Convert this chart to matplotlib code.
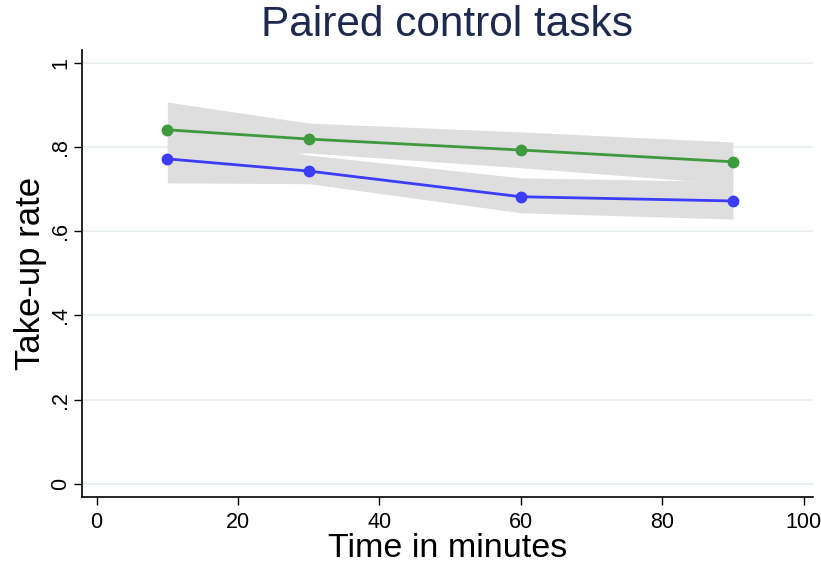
import matplotlib
matplotlib.use("Agg")
import matplotlib.pyplot as plt
import numpy as np

# Take-up rates by time (minutes) with 95% confidence bands
minutes = [10, 30, 60, 90]

green_rate = [0.841, 0.819, 0.793, 0.765]
green_lo = [0.775, 0.786, 0.751, 0.712]
green_hi = [0.907, 0.857, 0.836, 0.812]

blue_rate = [0.772, 0.743, 0.682, 0.672]
blue_lo = [0.715, 0.713, 0.644, 0.629]
blue_hi = [0.830, 0.781, 0.727, 0.718]

x_ticks = [0, 20, 40, 60, 80, 100]
y_ticks = [0, 0.2, 0.4, 0.6, 0.8, 1.0]
y_tick_labels = ["0", ".2", ".4", ".6", ".8", "1"]

plt.rcParams['font.family'] = ['Liberation Sans', 'DejaVu Sans']

fig = plt.figure(figsize=(8.21, 5.66), dpi=100)
ax = fig.add_axes([0.100, 0.122, 0.890, 0.790])

band_color = '#dedede'
ax.fill_between(minutes, green_lo, green_hi, color=band_color, linewidth=0, zorder=2)
ax.fill_between(minutes, blue_lo, blue_hi, color=band_color, linewidth=0, zorder=2)

ax.plot(minutes, green_rate, color='#3d9a3d', lw=2, marker='o', ms=7.5, zorder=4)
ax.plot(minutes, blue_rate, color='#3c3cff', lw=2, marker='o', ms=7.5, zorder=4)

ax.set_xlim(-2.05, 101.3)
ax.set_ylim(-0.031, 1.031)
ax.set_xticks(x_ticks)
ax.set_yticks(y_ticks)
ax.set_yticklabels(y_tick_labels, rotation=90, va='center')
ax.tick_params(axis='both', direction='out', length=6, width=1, labelsize=15.5, colors='black')
ax.tick_params(axis='x', pad=5)
ax.tick_params(axis='y', pad=2)

for y in y_ticks:
    ax.axhline(y, color='#e6eef0', lw=1.2, zorder=1)

for side in ['top', 'right']:
    ax.spines[side].set_visible(False)
for side in ['left', 'bottom']:
    ax.spines[side].set_linewidth(1.2)

ax.set_xlabel("Time in minutes", fontsize=24.5, labelpad=0)
ax.set_ylabel("Take-up rate", fontsize=25, labelpad=2)
ax.set_title("Paired control tasks", fontsize=30.5, color='#1c2a50', pad=10)

fig.savefig("out.png", dpi=100, facecolor='white')
